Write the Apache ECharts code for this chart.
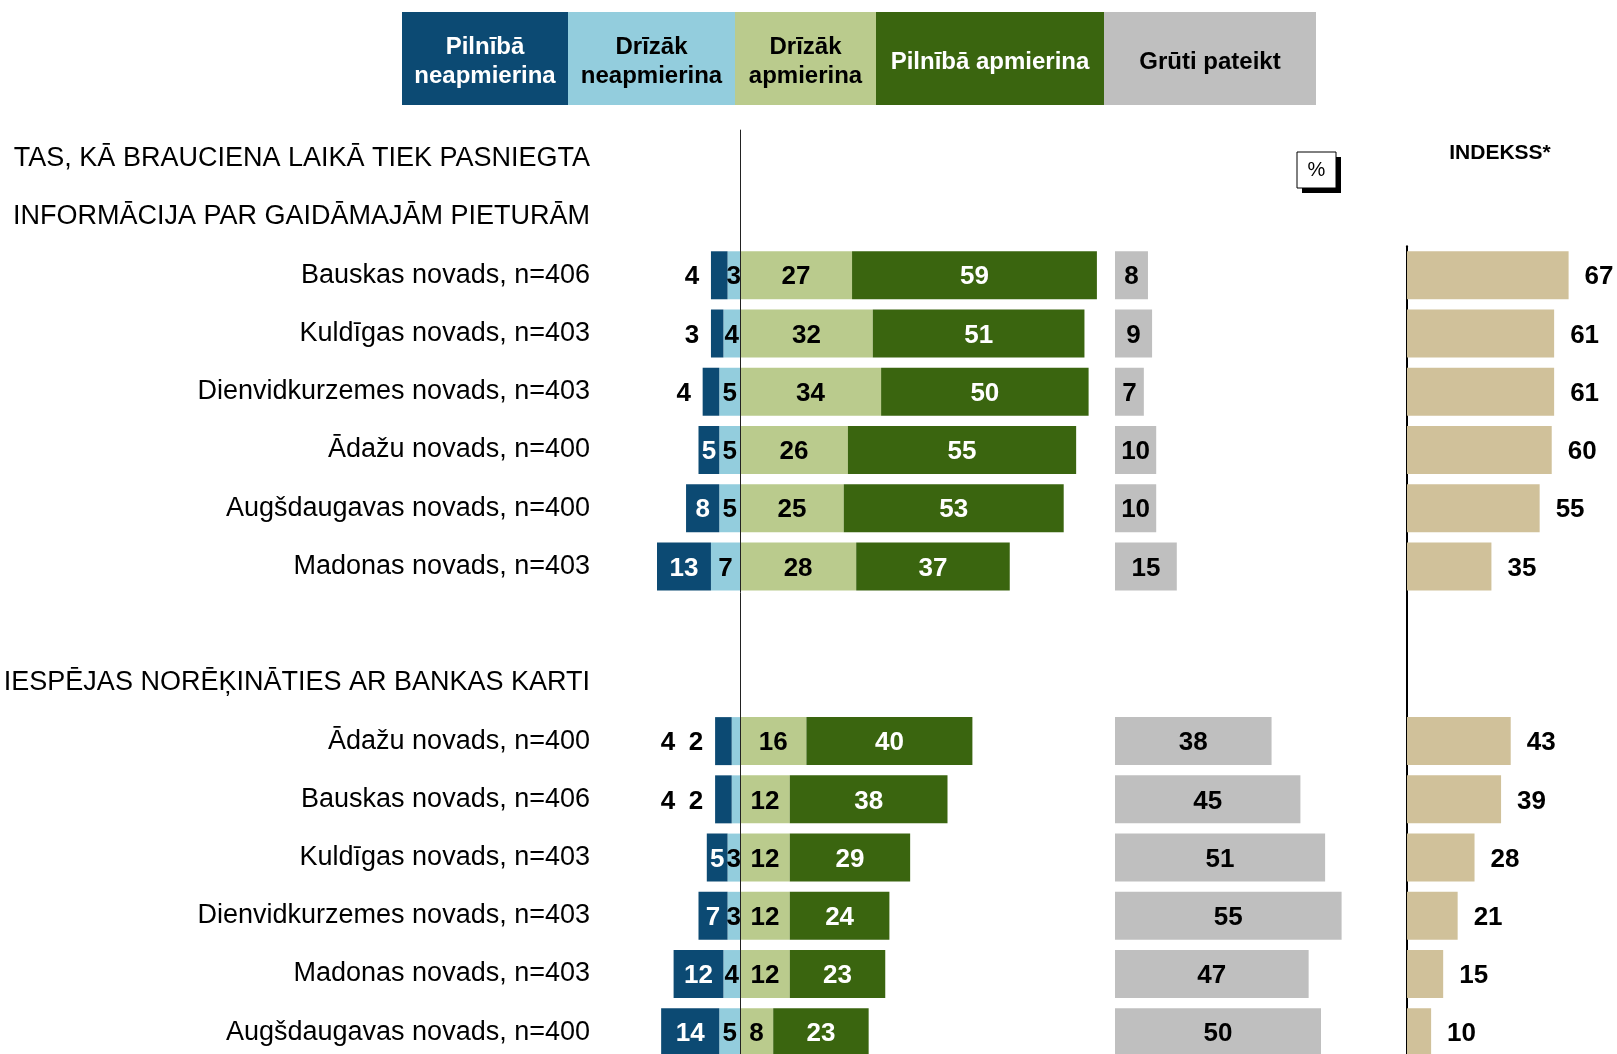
<!DOCTYPE html>
<html><head><meta charset="utf-8">
<script src="https://cdn.jsdelivr.net/npm/echarts@6/dist/echarts.min.js"></script>
<style>html,body{margin:0;padding:0;background:#fff}#c{width:1617px;height:1054px}</style>
</head><body><div id="c"></div>
<script>
// ---------- DATA ----------
const title1 = ['TAS, KĀ BRAUCIENA LAIKĀ TIEK PASNIEGTA', 'INFORMĀCIJA PAR GAIDĀMAJĀM PIETURĀM'];
const title2 = ['IESPĒJAS NORĒĶINĀTIES AR BANKAS KARTI'];

const categories1 = ['Bauskas novads, n=406', 'Kuldīgas novads, n=403', 'Dienvidkurzemes novads, n=403',
  'Ādažu novads, n=400', 'Augšdaugavas novads, n=400', 'Madonas novads, n=403'];
const fullyDis1 = [4, 3, 4, 5, 8, 13];
const ratherDis1 = [3, 4, 5, 5, 5, 7];
const ratherSat1 = [27, 32, 34, 26, 25, 28];
const fullySat1 = [59, 51, 50, 55, 53, 37];
const hard1 = [8, 9, 7, 10, 10, 15];
const index1 = [67, 61, 61, 60, 55, 35];

const categories2 = ['Ādažu novads, n=400', 'Bauskas novads, n=406', 'Kuldīgas novads, n=403',
  'Dienvidkurzemes novads, n=403', 'Madonas novads, n=403', 'Augšdaugavas novads, n=400'];
const fullyDis2 = [4, 4, 5, 7, 12, 14];
const ratherDis2 = [2, 2, 3, 3, 4, 5];
const ratherSat2 = [16, 12, 12, 12, 12, 8];
const fullySat2 = [40, 38, 29, 24, 23, 23];
const hard2 = [38, 45, 51, 55, 47, 50];
const index2 = [43, 39, 28, 21, 15, 10];

const legendNames = ['Pilnībā\nneapmierina', 'Drīzāk\nneapmierina', 'Drīzāk\napmierina', 'Pilnībā apmierina', 'Grūti pateikt'];
const indexTitle = 'INDEKSS*';
const unitLabel = '%';

// ---------- STYLE ----------
const FONT = 'Liberation Sans, Arial, sans-serif';
const C = {darkBlue: '#0C4A73', lightBlue: '#93CDDD', lightGreen: '#BACB8D', darkGreen: '#3A650F', grey: '#BFBFBF', tan: '#D0C19A'};
const legendColors = [C.darkBlue, C.lightBlue, C.lightGreen, C.darkGreen, C.grey];
const legendTextColors = ['#fff', '#000', '#000', '#fff', '#000'];

const rowLabels = [...title1, ...categories1, '', ...title2, ...categories2];
function rows(a, b) { return [null, null, ...a, null, null, ...b]; }

const dbRows = rows(fullyDis1, fullyDis2);
const lbRows = rows(ratherDis1, ratherDis2);
const lgRows = rows(ratherSat1, ratherSat2);
const dgRows = rows(fullySat1, fullySat2);
const hardRows = rows(hard1, hard2);
const idxRows = [...index1, null, null, ...index2];

const ROW = 58.23;
const TOP = 129.7;
const labelBase = {fontFamily: FONT, fontSize: 26, fontWeight: 'bold', offset: [0, 2]};

const darkBlueData = dbRows.map((v, i) => {
  if (v == null) return '-';
  const lb = lbRows[i];
  if (v <= 4) {
    const txt = lb <= 2 ? `{o|${v}}{o|${lb}}` : `{o|${v}}`;
    return {value: -v, label: {show: true, position: 'left', distance: 5, offset: [0, 2], formatter: () => txt,
      rich: {o: {width: 28, align: 'center', color: '#000', fontFamily: FONT, fontSize: 26, fontWeight: 'bold'}}}};
  }
  return {value: -v, label: Object.assign({show: true, position: 'inside', color: '#fff', formatter: String(v)}, labelBase)};
});
const lightBlueData = lbRows.map(v => {
  if (v == null) return '-';
  if (v <= 2) return {value: -v, label: {show: false}};
  return {value: -v, label: Object.assign({show: true, position: 'inside', color: '#000', formatter: String(v)}, labelBase)};
});

const chart = echarts.init(document.getElementById('c'));
const option = {
  animation: false,
  backgroundColor: '#fff',
  grid: [
    {left: 615.5, top: TOP, width: 498, height: ROW * 16, outerBoundsMode: 'none'},
    {left: 1115, top: TOP, width: 4.12 * 60, height: ROW * 16, outerBoundsMode: 'none'},
    {left: 1407, top: TOP + 2 * ROW, width: 2.412 * 80, height: ROW * 14, outerBoundsMode: 'none'}
  ],
  xAxis: [
    {gridIndex: 0, type: 'value', min: -30, max: 90, show: false},
    {gridIndex: 1, type: 'value', min: 0, max: 60, show: false},
    {gridIndex: 2, type: 'value', min: 0, max: 80, show: false}
  ],
  yAxis: [
    {gridIndex: 0, type: 'category', inverse: true, data: rowLabels.map((t, i) => String(i)),
      axisLine: {show: false}, axisTick: {show: false}, splitLine: {show: false},
      axisLabel: {interval: 0, margin: 25.5, fontFamily: FONT, fontSize: 27, color: '#000',
        padding: [4, 0, 0, 0], formatter: v => rowLabels[+v]}},
    {gridIndex: 1, type: 'category', inverse: true, data: rowLabels.map((t, i) => String(i)), show: false},
    {gridIndex: 2, type: 'category', inverse: true, data: idxRows.map((t, i) => String(i)),
      axisLine: {show: true, lineStyle: {color: '#000', width: 2}}, axisTick: {show: false},
      axisLabel: {show: false}, splitLine: {show: false}}
  ],
  series: [
    {name: 'Drīzāk neapmierina', type: 'bar', stack: 'main', xAxisIndex: 0, yAxisIndex: 0, barWidth: 48,
      itemStyle: {color: C.lightBlue}, data: lightBlueData},
    {name: 'Pilnībā neapmierina', type: 'bar', stack: 'main', xAxisIndex: 0, yAxisIndex: 0, barWidth: 48,
      itemStyle: {color: C.darkBlue}, data: darkBlueData},
    {name: 'Drīzāk apmierina', type: 'bar', stack: 'main', xAxisIndex: 0, yAxisIndex: 0, barWidth: 48,
      itemStyle: {color: C.lightGreen},
      label: Object.assign({show: true, position: 'inside', color: '#000'}, labelBase),
      data: lgRows.map(v => v == null ? '-' : v),
      markLine: {silent: true, symbol: 'none', label: {show: false},
        lineStyle: {color: '#222', width: 1, type: 'solid'}, data: [{xAxis: 0}]}},
    {name: 'Pilnībā apmierina', type: 'bar', stack: 'main', xAxisIndex: 0, yAxisIndex: 0, barWidth: 48,
      itemStyle: {color: C.darkGreen},
      label: Object.assign({show: true, position: 'inside', color: '#fff'}, labelBase),
      data: dgRows.map(v => v == null ? '-' : v)},
    {name: 'Grūti pateikt', type: 'bar', xAxisIndex: 1, yAxisIndex: 1, barWidth: 48,
      itemStyle: {color: C.grey},
      label: Object.assign({show: true, position: 'inside', color: '#000'}, labelBase),
      data: hardRows.map(v => v == null ? '-' : v)},
    {name: 'Indekss', type: 'bar', xAxisIndex: 2, yAxisIndex: 2, barWidth: 48,
      itemStyle: {color: C.tan},
      label: Object.assign({show: true, position: 'right', distance: 16, color: '#000'}, labelBase),
      data: idxRows.map(v => v == null ? '-' : v)}
  ],
  graphic: []
};

// legend boxes
const edges = [402, 568, 735, 876, 1104, 1316];
legendNames.forEach((name, i) => {
  option.graphic.push({type: 'rect', shape: {x: edges[i], y: 12, width: edges[i + 1] - edges[i], height: 93},
    style: {fill: legendColors[i]}, silent: true});
  option.graphic.push({type: 'text', x: (edges[i] + edges[i + 1]) / 2, y: 62,
    style: {text: name, fill: legendTextColors[i], font: `bold 24px ${FONT}`, align: 'center', verticalAlign: 'middle', lineHeight: 29},
    silent: true});
});
// % box
option.graphic.push({type: 'rect', shape: {x: 1302, y: 157, width: 39, height: 36}, style: {fill: '#000'}, silent: true});
option.graphic.push({type: 'rect', shape: {x: 1297, y: 152, width: 39, height: 36}, style: {fill: '#fff', stroke: '#000', lineWidth: 1}, silent: true});
option.graphic.push({type: 'text', x: 1316.5, y: 170, style: {text: unitLabel, fill: '#000', font: `20px ${FONT}`, align: 'center', verticalAlign: 'middle'}, silent: true});
// index title
option.graphic.push({type: 'text', x: 1500, y: 153, style: {text: indexTitle, fill: '#000', font: `bold 21px ${FONT}`, align: 'center', verticalAlign: 'middle'}, silent: true});

chart.setOption(option);
</script>
</body></html>
